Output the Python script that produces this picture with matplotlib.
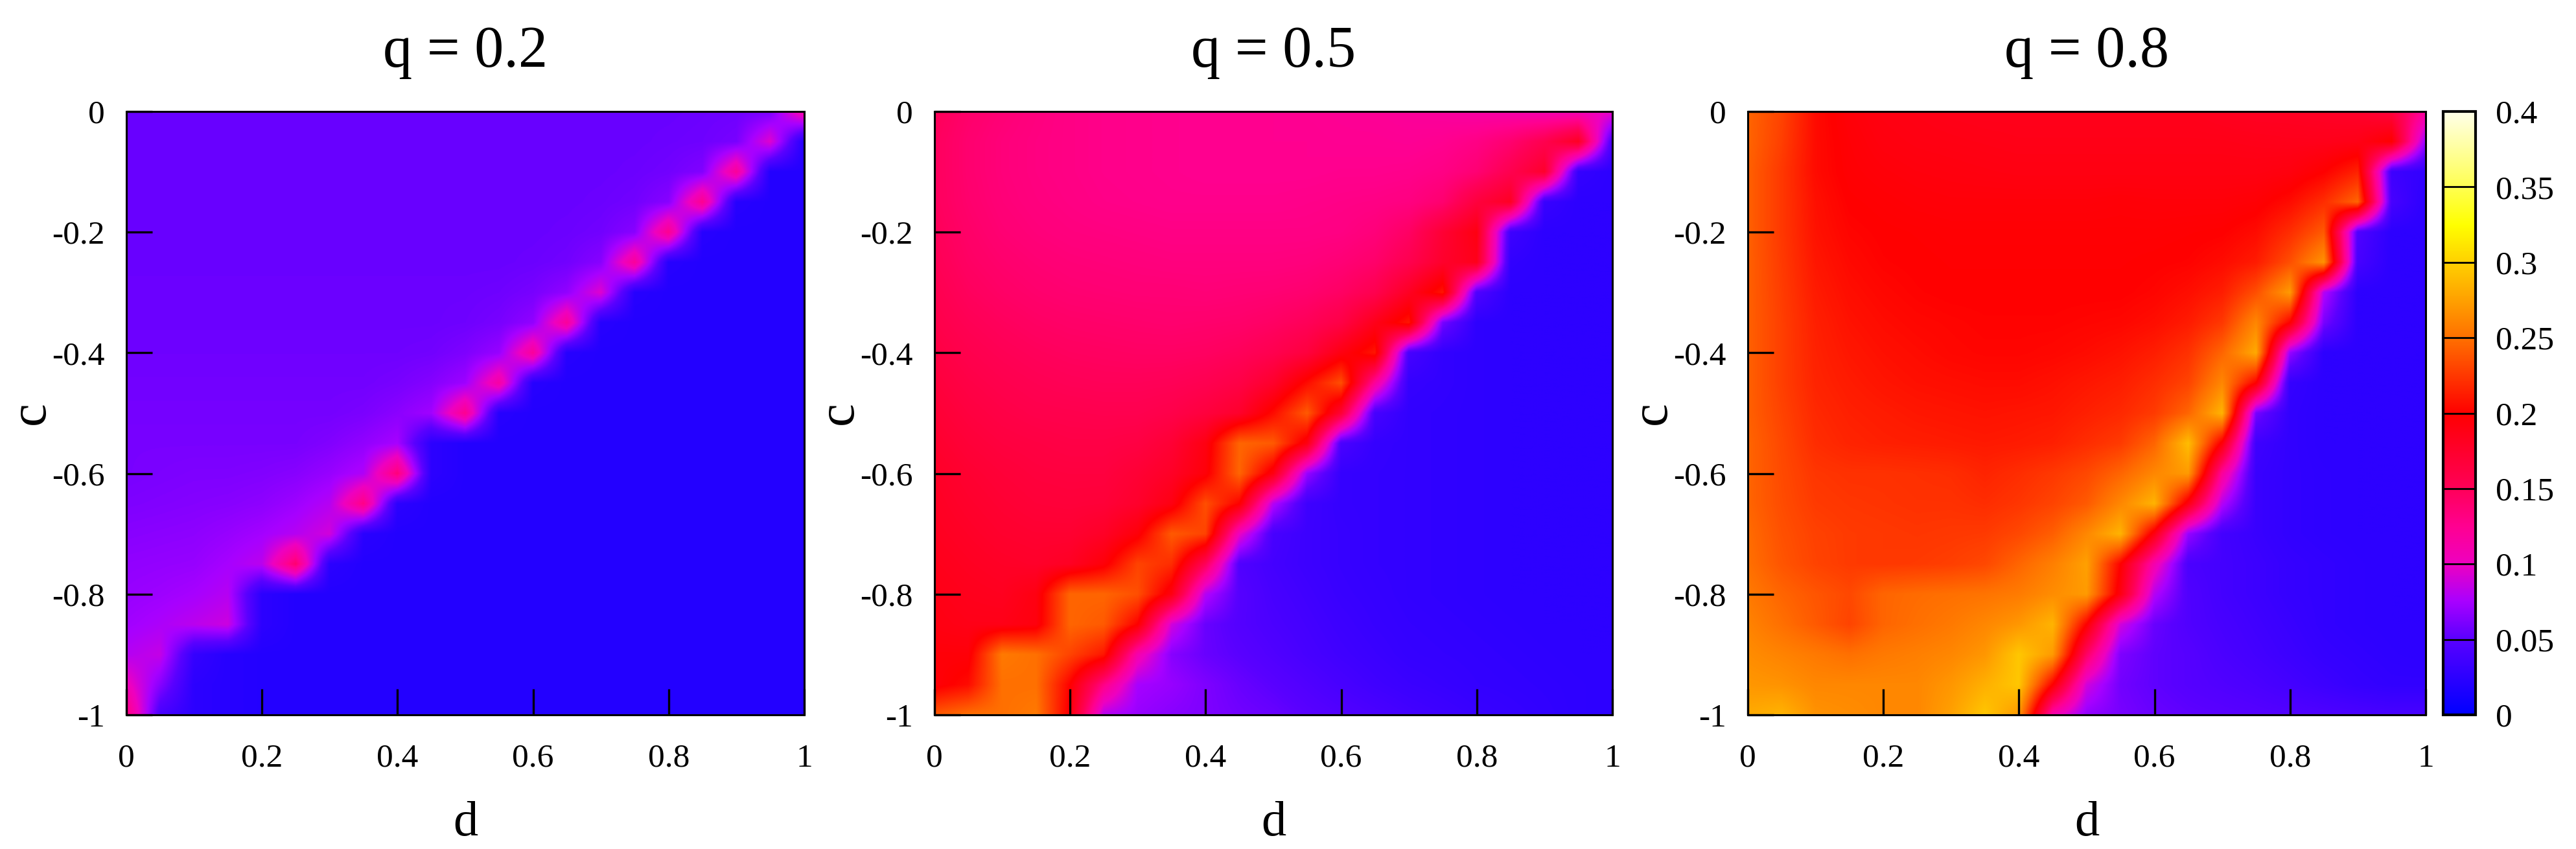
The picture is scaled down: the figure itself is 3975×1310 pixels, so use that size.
import matplotlib
matplotlib.use('Agg')
import matplotlib.pyplot as plt
from matplotlib.colors import LinearSegmentedColormap
import numpy as np

plt.rcParams['font.family'] = ['Liberation Serif', 'DejaVu Serif']

# values in thousandths, rows c = 0 ... -1, columns d = 0 ... 1 (step 0.05)
q02 = [
    [55, 55, 55, 55, 55, 55, 55, 55, 55, 55, 55, 55, 55, 55, 55, 55, 55, 56, 57, 60, 115],
    [55, 55, 55, 55, 55, 55, 55, 55, 55, 55, 55, 55, 55, 55, 55, 55, 56, 57, 60, 95, 20],
    [55, 55, 55, 55, 55, 55, 55, 55, 55, 55, 55, 55, 55, 55, 55, 56, 58, 63, 120, 20, 20],
    [55, 55, 55, 55, 55, 55, 55, 55, 55, 55, 55, 55, 55, 55, 56, 58, 65, 125, 22, 20, 20],
    [55, 55, 55, 55, 55, 55, 55, 55, 55, 55, 55, 55, 55, 56, 58, 65, 125, 22, 20, 20, 20],
    [55, 55, 55, 55, 55, 55, 55, 55, 55, 55, 55, 55, 56, 58, 65, 120, 22, 20, 20, 20, 20],
    [56, 56, 56, 56, 56, 56, 56, 56, 56, 56, 56, 57, 60, 68, 95, 22, 20, 20, 20, 20, 20],
    [56, 56, 56, 56, 56, 56, 56, 56, 56, 56, 57, 60, 68, 120, 22, 20, 20, 20, 20, 20, 20],
    [57, 57, 57, 57, 57, 57, 57, 57, 57, 58, 62, 70, 120, 22, 20, 20, 20, 20, 20, 20, 20],
    [58, 58, 58, 58, 58, 58, 58, 58, 60, 64, 72, 115, 22, 20, 20, 20, 20, 20, 20, 20, 20],
    [59, 59, 59, 59, 59, 59, 59, 61, 66, 73, 125, 22, 20, 20, 20, 20, 20, 20, 20, 20, 20],
    [60, 60, 60, 60, 60, 60, 63, 68, 75, 25, 20, 20, 20, 20, 20, 20, 20, 20, 20, 20, 20],
    [60, 61, 62, 62, 63, 65, 70, 78, 135, 25, 20, 20, 20, 20, 20, 20, 20, 20, 20, 20, 20],
    [62, 63, 64, 65, 67, 72, 80, 130, 25, 20, 20, 20, 20, 20, 20, 20, 20, 20, 20, 20, 20],
    [65, 66, 67, 70, 74, 80, 90, 24, 20, 20, 20, 20, 20, 20, 20, 20, 20, 20, 20, 20, 20],
    [68, 69, 70, 75, 82, 140, 25, 20, 20, 20, 20, 20, 20, 20, 20, 20, 20, 20, 20, 20, 20],
    [70, 72, 75, 80, 25, 20, 20, 20, 20, 20, 20, 20, 20, 20, 20, 20, 20, 20, 20, 20, 20],
    [73, 77, 82, 88, 25, 20, 20, 20, 20, 20, 20, 20, 20, 20, 20, 20, 20, 20, 20, 20, 20],
    [80, 85, 30, 22, 20, 20, 20, 20, 20, 20, 20, 20, 20, 20, 20, 20, 20, 20, 20, 20, 20],
    [105, 65, 25, 22, 20, 20, 20, 20, 20, 20, 20, 20, 20, 20, 20, 20, 20, 20, 20, 20, 20],
    [135, 40, 25, 22, 20, 20, 20, 20, 20, 20, 20, 20, 20, 20, 20, 20, 20, 20, 20, 20, 20],
]
q05 = [
    [150, 142, 137, 133, 130, 128, 127, 126, 125, 125, 125, 124, 123, 122, 120, 118, 115, 112, 108, 105, 100],
    [148, 140, 135, 132, 130, 128, 127, 126, 125, 125, 125, 125, 124, 124, 123, 125, 130, 140, 155, 180, 40],
    [148, 140, 135, 132, 130, 128, 127, 126, 125, 125, 125, 125, 126, 126, 127, 130, 138, 155, 175, 30, 25],
    [148, 141, 136, 133, 131, 129, 128, 127, 127, 127, 127, 128, 129, 130, 132, 140, 165, 180, 32, 25, 25],
    [150, 143, 138, 135, 133, 132, 131, 130, 130, 130, 130, 130, 131, 135, 145, 170, 190, 35, 25, 25, 25],
    [152, 145, 141, 138, 136, 135, 134, 133, 133, 133, 133, 134, 137, 142, 155, 175, 185, 28, 25, 25, 25],
    [155, 148, 144, 141, 139, 138, 137, 137, 136, 137, 138, 140, 145, 155, 180, 210, 45, 25, 25, 25, 25],
    [158, 152, 148, 145, 143, 142, 141, 140, 141, 142, 145, 150, 160, 185, 210, 60, 26, 25, 25, 25, 25],
    [162, 156, 152, 149, 147, 146, 145, 145, 146, 149, 155, 165, 190, 210, 40, 28, 26, 25, 25, 25, 25],
    [166, 160, 156, 153, 151, 150, 150, 151, 154, 160, 175, 205, 235, 120, 30, 28, 26, 25, 25, 25, 25],
    [170, 164, 160, 157, 156, 155, 155, 158, 165, 175, 205, 240, 170, 40, 28, 27, 26, 25, 25, 25, 25],
    [174, 168, 164, 162, 160, 160, 162, 170, 190, 245, 240, 190, 42, 30, 28, 27, 26, 25, 25, 25, 25],
    [178, 172, 168, 165, 164, 164, 170, 178, 195, 245, 190, 70, 30, 29, 28, 27, 26, 25, 25, 25, 25],
    [180, 175, 171, 168, 167, 168, 175, 190, 235, 200, 80, 35, 30, 29, 28, 27, 26, 25, 25, 25, 25],
    [182, 178, 174, 172, 172, 178, 195, 240, 230, 100, 40, 34, 31, 29, 28, 27, 26, 25, 25, 25, 25],
    [185, 181, 178, 176, 180, 195, 230, 220, 150, 45, 38, 34, 31, 29, 28, 27, 26, 25, 25, 25, 25],
    [188, 184, 182, 190, 245, 245, 235, 190, 80, 48, 40, 36, 32, 30, 28, 27, 26, 25, 25, 25, 25],
    [190, 187, 187, 192, 245, 240, 200, 90, 55, 47, 42, 38, 34, 31, 29, 28, 27, 26, 25, 25, 25],
    [195, 195, 255, 250, 230, 210, 110, 65, 55, 50, 45, 40, 36, 33, 30, 29, 28, 27, 26, 25, 25],
    [195, 205, 250, 250, 200, 130, 75, 70, 62, 55, 50, 45, 40, 36, 33, 31, 29, 28, 27, 26, 25],
    [240, 250, 250, 255, 195, 80, 70, 65, 62, 58, 55, 50, 46, 42, 38, 35, 32, 30, 28, 26, 25],
]
q08 = [
    [245, 230, 205, 195, 190, 188, 186, 185, 185, 185, 185, 185, 185, 185, 182, 180, 180, 178, 175, 165, 120],
    [245, 228, 205, 197, 192, 190, 189, 188, 187, 187, 187, 187, 187, 187, 187, 186, 185, 185, 187, 200, 70],
    [243, 225, 205, 198, 195, 193, 192, 191, 190, 190, 190, 190, 190, 190, 190, 190, 192, 200, 215, 35, 28],
    [243, 225, 207, 200, 198, 196, 195, 195, 195, 195, 195, 196, 195, 195, 195, 197, 205, 220, 245, 40, 25],
    [243, 225, 208, 202, 200, 199, 198, 198, 198, 198, 198, 198, 198, 199, 200, 205, 220, 240, 45, 25, 25],
    [243, 226, 210, 204, 201, 200, 199, 199, 199, 199, 199, 199, 200, 201, 205, 212, 235, 268, 40, 25, 25],
    [243, 227, 212, 206, 203, 201, 200, 200, 200, 200, 200, 200, 202, 206, 213, 235, 272, 80, 25, 25, 25],
    [243, 228, 214, 208, 205, 203, 202, 201, 201, 201, 202, 203, 206, 212, 225, 262, 200, 60, 25, 25, 25],
    [243, 228, 215, 210, 207, 205, 203, 202, 202, 203, 205, 208, 213, 222, 245, 280, 70, 25, 25, 25, 25],
    [243, 228, 216, 212, 209, 207, 206, 205, 205, 207, 210, 213, 220, 230, 262, 200, 30, 25, 25, 25, 25],
    [243, 230, 218, 214, 212, 210, 209, 208, 209, 210, 214, 218, 226, 245, 285, 60, 28, 25, 25, 25, 25],
    [245, 232, 220, 216, 214, 213, 212, 211, 212, 214, 220, 226, 245, 290, 195, 35, 28, 25, 25, 25, 25],
    [245, 233, 224, 222, 222, 221, 220, 216, 220, 225, 232, 245, 262, 272, 120, 32, 28, 26, 25, 25, 25],
    [245, 234, 226, 224, 223, 222, 222, 220, 224, 230, 240, 262, 285, 190, 80, 32, 28, 26, 25, 25, 25],
    [248, 236, 229, 226, 225, 224, 225, 226, 232, 242, 262, 285, 190, 70, 38, 32, 28, 26, 25, 25, 25],
    [250, 238, 230, 226, 225, 226, 228, 232, 245, 258, 275, 200, 110, 42, 38, 34, 30, 28, 26, 25, 25],
    [255, 245, 238, 232, 245, 248, 250, 252, 256, 265, 272, 190, 80, 45, 38, 34, 30, 28, 26, 25, 25],
    [260, 250, 240, 230, 245, 250, 255, 262, 270, 285, 200, 90, 55, 45, 40, 36, 32, 28, 26, 25, 25],
    [265, 260, 255, 250, 255, 258, 262, 270, 295, 272, 145, 62, 52, 48, 42, 38, 34, 30, 28, 26, 25],
    [270, 268, 262, 262, 262, 262, 270, 283, 295, 200, 90, 58, 52, 48, 45, 42, 38, 34, 30, 28, 28],
    [280, 285, 268, 265, 262, 262, 275, 295, 270, 110, 68, 60, 55, 52, 50, 48, 46, 44, 42, 40, 40],
]

titles = ['q = 0.2', 'q = 0.5', 'q = 0.8']
panels = [q02, q05, q08]
xticks = [0, 0.2, 0.4, 0.6, 0.8, 1]
xlabels = ['0', '0.2', '0.4', '0.6', '0.8', '1']
yticks = [0, -0.2, -0.4, -0.6, -0.8, -1]
ylabels = ['0', '-0.2', '-0.4', '-0.6', '-0.8', '-1']
cticks = [0, 0.05, 0.1, 0.15, 0.2, 0.25, 0.3, 0.35, 0.4]
clabels = ['0', '0.05', '0.1', '0.15', '0.2', '0.25', '0.3', '0.35', '0.4']

# palette
pal_pos = [0, 0.05, 0.075, 0.1, 0.125, 0.15, 0.2, 0.25, 0.3, 0.325, 0.35, 0.4]
pal_col = ['#0000ff', '#5a00ff', '#a800ff', '#ee00c0', '#ff0090', '#ff0058', '#ff0000',
           '#ff7000', '#ffd000', '#ffff00', '#ffff50', '#ffffe8']
cmap = LinearSegmentedColormap.from_list('gp', [(p / 0.4, c) for p, c in zip(pal_pos, pal_col)], N=512)

W, H = 3975, 1310
lefts = [195, 1442, 2697]
pw, top, bottom = 1046, 172, 1103

fig = plt.figure(figsize=(W / 100, H / 100), dpi=100)
for left, vals, title in zip(lefts, panels, titles):
    ax = fig.add_axes([left / W, 1 - bottom / H, pw / W, (bottom - top) / H])
    im = ax.imshow(np.array(vals) / 1000, extent=[-0.025, 1.025, -1.025, 0.025], aspect='auto',
                   cmap=cmap, vmin=0, vmax=0.4, interpolation='bilinear')
    ax.set_xlim(0, 1)
    ax.set_ylim(-1, 0)
    ax.set_xticks(xticks, xlabels)
    ax.set_yticks(yticks, ylabels)
    ax.tick_params(direction='in', length=29, width=2.4, labelsize=37, top=False, right=False)
    ax.tick_params(axis='x', pad=32)
    ax.tick_params(axis='y', pad=24)
    for s in ax.spines.values():
        s.set_linewidth(2.2)
    ax.set_title(title, fontsize=65, pad=50)
    ax.set_xlabel('d', fontsize=55)
    ax.set_ylabel('c', fontsize=58)
    ax.xaxis.set_label_coords(0.5, -0.143)
    ax.yaxis.set_label_coords(-0.105, 0.5)

cax = fig.add_axes([3770 / W, 1 - bottom / H, 50 / W, (bottom - top) / H])
cb = fig.colorbar(im, cax=cax, ticks=cticks)
cb.ax.set_yticklabels(clabels)
cb.ax.tick_params(direction='in', length=36, width=2, labelsize=37, pad=22, left=False, right=True)
cb.outline.set_linewidth(3)

fig.savefig('out.png', dpi=100)
